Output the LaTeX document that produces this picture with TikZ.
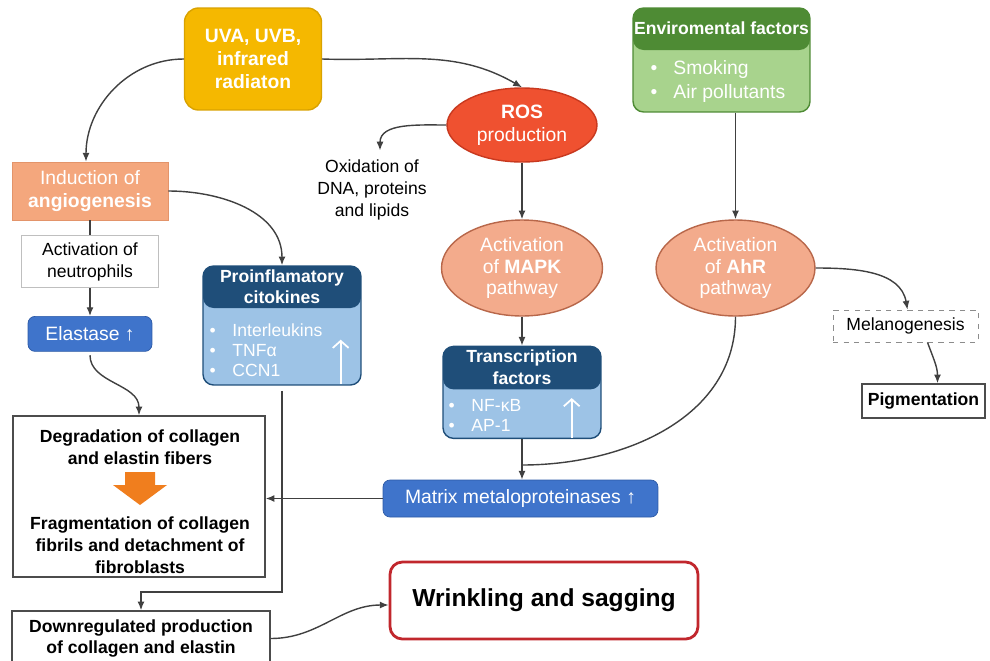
\documentclass[tikz,border=0pt]{standalone}
\usepackage{xcolor}
\usepackage{fontspec}
\setmainfont{Liberation Sans}
\usepackage{tikz}
\usetikzlibrary{arrows.meta,shapes,positioning}

\definecolor{uvgold}{HTML}{F5B800}
\definecolor{uvedge}{HTML}{D9A200}
\definecolor{rosred}{HTML}{EF5130}
\definecolor{rosedge}{HTML}{C8391F}
\definecolor{salmon}{HTML}{F3AB8C}
\definecolor{salmonedge}{HTML}{B8674A}
\definecolor{peach}{HTML}{F4A77D}
\definecolor{peachedge}{HTML}{E3946A}
\definecolor{envdark}{HTML}{4E8B34}
\definecolor{envlight}{HTML}{A8D38D}
\definecolor{navy}{HTML}{1F4E79}
\definecolor{skyblue}{HTML}{9DC3E6}
\definecolor{btnblue}{HTML}{3F74CB}
\definecolor{btnedge}{HTML}{2C5AA6}
\definecolor{wrinkred}{HTML}{C1272D}
\definecolor{fatorange}{HTML}{F07E1E}
\definecolor{linegray}{HTML}{404040}

\newcommand{\bul}{\makebox[13pt][l]{\textbullet}}

\begin{document}
\begin{tikzpicture}[
  x = 0.02cm, y = 0.02cm,
  > = {Latex[length=5pt,width=4pt]},
  link/.style = {draw=linegray, line width=0.8pt},
  lbl/.style  = {align=center, inner sep=0pt, font=\fontsize{10}{12.5}\selectfont},
  plain/.style = {rectangle, draw=black!70, line width=0.8pt, align=center,
                  font=\bfseries\fontsize{10}{12}\selectfont},
  source/.style = {rectangle, rounded corners=8pt, fill=uvgold, draw=uvedge,
                   line width=0.8pt, text=white, align=center,
                   font=\bfseries\fontsize{11}{13}\selectfont},
  pill/.style = {rectangle, rounded corners=4pt, fill=btnblue, draw=btnedge,
                 text=white, inner sep=0pt, font=\fontsize{11}{13}\selectfont},
  oval/.style = {ellipse, fill=salmon, draw=salmonedge, line width=0.8pt,
                 text=white, align=center, inner sep=0pt,
                 font=\fontsize{11}{12.5}\selectfont},
  card/.style n args = {3}{rectangle, rounded corners=6pt, draw=#1, fill=#2,
                 line width=0.8pt, inner sep=0pt,
                 path picture={\fill[#1] (path picture bounding box.north west)
                   rectangle ([yshift=-#3]path picture bounding box.north east);}},
  head/.style = {text=white, align=center, inner sep=0pt,
                 font=\bfseries\fontsize{10}{12}\selectfont},
  list/.style = {text=white, align=left, anchor=west, inner sep=0pt,
                 font=\fontsize{10}{11.5}\selectfont},
  uparr/.style = {white, line width=1pt, -{Straight Barb[length=4pt,width=9pt]}}
]
\useasboundingbox (0,0) rectangle (990,-660);

% ───────── sources ─────────
\node[source, minimum width=2.74cm, minimum height=2.04cm] (uv) at (253,-59)
  {UVA, UVB,\\infrared\\radiaton};
\node[ellipse, fill=rosred, draw=rosedge, line width=0.8pt, minimum width=3cm,
      minimum height=1.48cm, inner sep=0pt, text=white, align=center,
      font=\fontsize{11}{13}\selectfont] (ros) at (522,-125)
  {\textbf{ROS}\\production};
\node[card={envdark}{envlight}{0.84cm}, minimum width=3.54cm,
      minimum height=2.08cm] (env) at (721.5,-60) {};
\node[head] (envtitle) at ([yshift=-0.42cm]env.north) {Enviromental factors};
\node[list, font=\fontsize{11}{13.5}\selectfont] (envlist)
  at ([xshift=0.36cm,yshift=-0.43cm]env.west) {\bul Smoking\\\bul Air pollutants};

\node[lbl] (oxid) at (372,-190) {Oxidation of\\DNA, proteins\\and lipids};

% ───────── left column ─────────
\node[rectangle, fill=peach, draw=peachedge, minimum width=3.12cm,
      minimum height=1.16cm, text=white, align=center,
      font=\fontsize{11}{13}\selectfont] (ind) at (90,-191)
  {Induction of\\\textbf{angiogenesis}};
\node[rectangle, draw=black!25, lbl, minimum width=2.74cm, minimum height=1.04cm,
      below=0.3cm of ind] (neu) {Activation of\\neutrophils};
\node[pill, minimum width=2.48cm, minimum height=0.7cm, below=0.56cm of neu]
  (ela) {Elastase ↑};

\node[card={navy}{skyblue}{0.84cm}, minimum width=3.16cm, minimum height=2.38cm]
  (cyto) at (282,-325.5) {};
\node[head] (cytotitle) at ([yshift=-0.42cm]cyto.north) {Proinflamatory\\citokines};
\node[list] (cytolist) at ([xshift=0.14cm,yshift=-0.49cm]cyto.west)
  {\bul Interleukins\\\bul TNFα\\\bul CCN1};
\draw[uparr] ([xshift=-0.42cm,yshift=0.04cm]cyto.south east) -- ++(0,44);

% ───────── pathways ─────────
\node[oval, minimum width=3.22cm, minimum height=1.92cm] (mapk) at (522,-268)
  {Activation\\of \textbf{MAPK}\\pathway};
\node[oval, minimum width=3.18cm, minimum height=1.92cm] (ahr) at (735.5,-268)
  {Activation\\of \textbf{AhR}\\pathway};

\node[card={navy}{skyblue}{0.86cm}, minimum width=3.16cm, minimum height=1.84cm,
      below=0.58cm of mapk] (tf) {};
\node[head] (tftitle) at ([yshift=-0.43cm]tf.north) {Transcription\\factors};
\node[list] (tflist) at ([xshift=0.12cm,yshift=-0.46cm]tf.west)
  {\bul NF-κB\\\bul AP-1};
\draw[uparr] ([xshift=-0.6cm,yshift=0.02cm]tf.south east) -- ++(0,40);

\node[rectangle, draw=black!45, dashed, lbl, minimum width=2.9cm,
      minimum height=0.64cm] (mel) at (905.5,-326) {Melanogenesis};
\node[plain, minimum width=2.46cm, minimum height=0.68cm] (pig) at (923.5,-401)
  {Pigmentation};

% ───────── damage ─────────
\node[rectangle, draw=black!70, line width=0.8pt, minimum width=5.04cm,
      minimum height=3.22cm] (deg) at (139,-496.5) {};
\node[lbl, font=\bfseries\fontsize{10}{12.5}\selectfont] (degtext) at (140,-447.5)
  {Degradation of collagen\\and elastin fibers};
\node[lbl, font=\bfseries\fontsize{10}{12.5}\selectfont] (fragtext) at (140,-545)
  {Fragmentation of collagen\\fibrils and detachment of\\fibroblasts};
\fill[fatorange] (125,-472) -- (155,-472) -- (155,-485) -- (167,-485)
  -- (140,-505) -- (113,-485) -- (125,-485) -- cycle;

\node[pill, minimum width=5.5cm, minimum height=0.74cm] (mmp) at (520.5,-498.5)
  {Matrix metaloproteinases ↑};
\node[plain, minimum width=5.16cm, minimum height=1.1cm] (down) at (141,-638.5)
  {Downregulated production\\of collagen and elastin};
\node[rectangle, rounded corners=7pt, draw=wrinkred, line width=1.6pt, fill=white,
      minimum width=6.16cm, minimum height=1.54cm,
      font=\bfseries\fontsize{14}{16}\selectfont] (wrink) at (544,-600.5)
  {Wrinkling and sagging};

% ───────── arrows ──────────
\coordinate (merge) at (522,-465);
\coordinate (bend)  at (282,-592);

\draw[link,->] (uv.west) to[out=180,in=90] ([xshift=-0.08cm]ind.north);
\draw[link,->] (uv.east) to[out=-2,in=150] (ros.north);
\draw[link,->] (ros.west) to[out=180,in=90] ([xshift=0.16cm,yshift=0.18cm]oxid.north);
\draw[link,->] (ros) -- (mapk);
\draw[link,->] (env.south -| ahr.north) -- (ahr.north);

\draw[link,->] (ind.east) to[out=0,in=90] (cyto.north);
\draw[link] (ind.south -| neu.north) -- (neu.north);
\draw[link,->] (neu) -- (ela);
\draw[link,->, shorten <=2pt] (ela.south) to[out=-90,in=90] (deg.north);
\draw[link,->, shorten <=3pt] (cyto.south) -- (bend) -| (down.north);

\draw[link,->] (mapk) -- (tf);
\draw[link,->] (tf.south) -- (tf.south |- mmp.north);
\draw[link] (ahr.south) to[out=-90,in=0] (merge);
\draw[link,->] (mmp.west) -- (mmp.west -| deg.east);

\draw[link,->] (ahr.east) to[out=0,in=100] ([xshift=0.04cm]mel.north);
\draw[link,->] ([xshift=0.44cm]mel.south) to[out=-70,in=90] ([xshift=0.28cm]pig.north);
\draw[link,->] (down.east) to[out=0,in=180] ([yshift=-0.09cm]wrink.west);
\end{tikzpicture}
\end{document}
